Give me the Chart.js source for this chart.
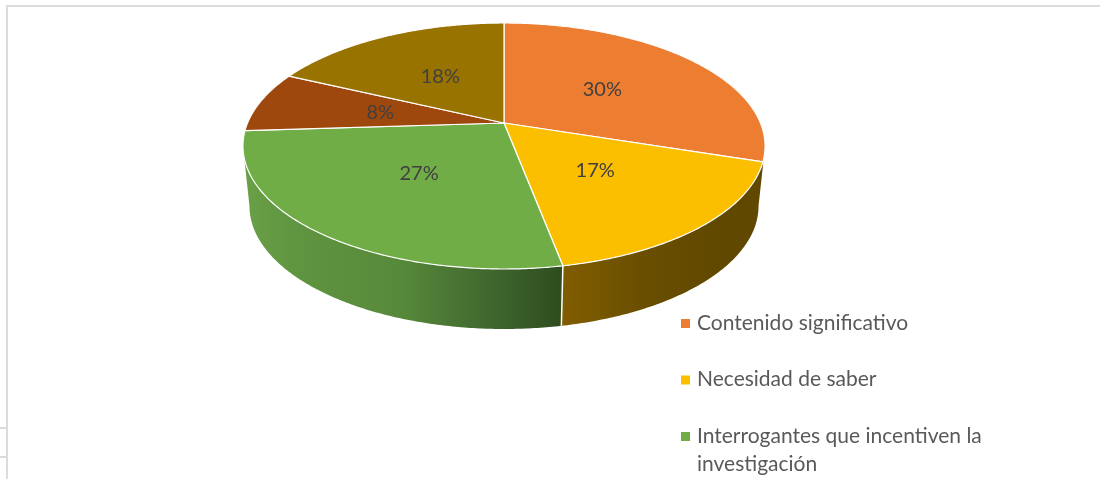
<!DOCTYPE html>
<html>
<head>
<meta charset="utf-8">
<style>html,body{margin:0;padding:0;background:#fff}canvas{display:block}</style>
<script src="https://cdn.jsdelivr.net/npm/chart.js@4/dist/chart.umd.js"></script>
</head>
<body>
<canvas id="c" width="1100" height="479"></canvas>
<script>
const categories = ["Contenido significativo", "Necesidad de saber", "Interrogantes que incentiven la investigación", "", ""];
const values = [30, 17, 27, 8, 18];
const colors = ["#ED7D31", "#FBBF00", "#70AD47", "#9E480E", "#997300"];
const percentLabels = ["30%", "17%", "27%", "8%", "18%"];
const legendLines = [["Contenido significativo"], ["Necesidad de saber"], ["Interrogantes que incentiven la", "investigación"]];

/* perspective of the tilted disc */
const K = 0.187, SX = 2.085, SY = 0.965;
const DEPTH = 60, BOTTOM_SCALE = 0.975;
function project(el, angle, frac) {
  const u = Math.cos(angle) * frac, v = Math.sin(angle) * frac, w = 1 - K * v;
  return [el.x + SX * el.outerRadius * u / w, el.y + SY * el.outerRadius * v / w];
}
function traceArc(ctx, el, a0, a1, first) {
  const n = Math.max(2, Math.ceil(Math.abs(a1 - a0) / 0.01));
  for (let i = 0; i <= n; i++) {
    const p = project(el, a0 + (a1 - a0) * i / n, 1);
    if (i === 0 && first) ctx.moveTo(p[0], p[1]); else ctx.lineTo(p[0], p[1]);
  }
}
const base = p => p;
Chart.ArcElement.prototype.draw = function (ctx) {
  ctx.save();
  ctx.beginPath();
  ctx.moveTo(this.x, this.y);
  traceArc(ctx, this, this.startAngle, this.endAngle, false);
  ctx.closePath();
  ctx.fillStyle = this.options.backgroundColor;
  ctx.fill();
  ctx.strokeStyle = "#fff";
  ctx.lineWidth = 1.2;
  ctx.lineJoin = "round";
  ctx.stroke();
  ctx.restore();
};

const wallPlugin = {
  id: "wall",
  beforeDatasetsDraw(chart) {
    const ctx = chart.ctx, arcs = chart.getDatasetMeta(0).data;
    ctx.save();
    /* frame of the original picture */
    ctx.fillStyle = "#dcdcdc";
    ctx.fillRect(6, 5, 1094, 2);
    ctx.fillRect(6, 5, 2, 474);
    ctx.fillRect(0, 427, 6, 2);
    ctx.fillRect(0, 456, 6, 2);

    const edge = Math.acos(-K);           /* silhouette angle from the top */
    const top = -Math.PI / 2;
    const walls = [
      { i: 1, from: top + edge, to: arcs[1].endAngle,
        stops: [[557, "#835e00"], [640, "#6a4f00"], [720, "#604800"]] },
      { i: 2, from: arcs[2].startAngle, to: top + 2 * Math.PI - edge,
        stops: [[243, "#6aa047"], [300, "#5f9440"], [400, "#57893a"], [480, "#426b30"], [557, "#2f4e20"]] }
    ];
    walls.forEach(w => {
      const el = arcs[w.i];
      const g = ctx.createLinearGradient(w.stops[0][0], 0, w.stops[w.stops.length - 1][0], 0);
      const span = w.stops[w.stops.length - 1][0] - w.stops[0][0];
      w.stops.forEach(s => g.addColorStop((s[0] - w.stops[0][0]) / span, s[1]));
      ctx.beginPath();
      traceArc(ctx, el, w.from, w.to, true);
      const n = Math.ceil(Math.abs(w.to - w.from) / 0.01);
      for (let i = 0; i <= n; i++) {
        const p = project(el, w.to + (w.from - w.to) * i / n, 1);
        ctx.lineTo(el.x + (p[0] - el.x) * BOTTOM_SCALE, p[1] + DEPTH);
      }
      ctx.closePath();
      ctx.fillStyle = g;
      ctx.fill();
    });
    /* white seam between the two side walls */
    const seamEl = arcs[1], p = project(seamEl, seamEl.endAngle, 1);
    ctx.beginPath();
    ctx.moveTo(p[0], p[1]);
    ctx.lineTo(seamEl.x + (p[0] - seamEl.x) * BOTTOM_SCALE, p[1] + DEPTH);
    ctx.strokeStyle = "#fff";
    ctx.lineWidth = 1.5;
    ctx.stroke();
    ctx.restore();
  },
  afterDatasetsDraw(chart) {
    const ctx = chart.ctx, arcs = chart.getDatasetMeta(0).data;
    ctx.save();
    ctx.font = '20px Lato';
    ctx.fillStyle = "#404040";
    ctx.textAlign = "center";
    ctx.textBaseline = "middle";
    arcs.forEach((el, i) => {
      const p = project(el, (el.startAngle + el.endAngle) / 2, 0.5);
      ctx.fillText(percentLabels[i], p[0], p[1]);
    });
    /* legend */
    ctx.textAlign = "left";
    ctx.font = '21px Lato';
    let y = 323;
    legendLines.forEach((lines, i) => {
      ctx.fillStyle = colors[i];
      ctx.fillRect(681, y - 4, 9, 9);
      ctx.fillStyle = "#595959";
      lines.forEach((t, j) => ctx.fillText(t, 697, y + j * 28));
      y += 56.5;
    });
    ctx.restore();
  }
};

new Chart(document.getElementById("c"), {
  type: "pie",
  data: { labels: categories, datasets: [{ data: values, backgroundColor: colors, borderWidth: 0 }] },
  options: {
    responsive: false,
    animation: false,
    events: [],
    layout: { padding: { left: 0, right: 92, top: 0, bottom: 233 } },
    plugins: { legend: { display: false }, tooltip: { enabled: false } }
  },
  plugins: [wallPlugin]
});
</script>
</body>
</html>
